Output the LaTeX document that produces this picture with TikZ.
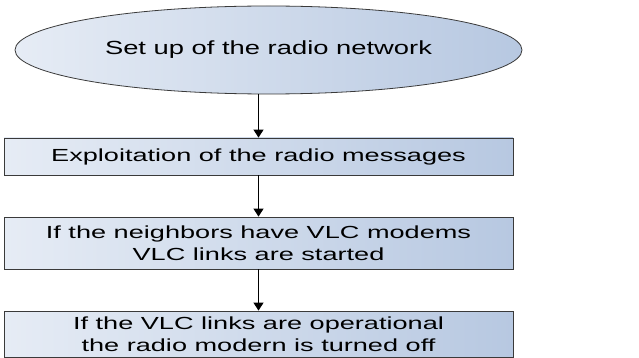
\documentclass[tikz,border=0pt]{standalone}
\usepackage{fontspec}
\setmainfont{Liberation Sans}
\newfontfamily\boxfont[FakeStretch=1.55]{Liberation Sans}
\newfontfamily\ovalfont[FakeStretch=1.44]{Liberation Sans}
\usetikzlibrary{shapes.geometric, arrows.meta}
\definecolor{fillleft}{HTML}{E6ECF5}
\definecolor{fillright}{HTML}{B7C8E1}
\definecolor{edgegray}{HTML}{3A3A3A}

\begin{document}
\begin{tikzpicture}[x = 1pt, y = -1pt, >={Triangle[width = 10pt, length = 8pt]},
    task/.style = {draw = edgegray, line width = 0.8pt, left color = fillleft,
      right color = fillright, minimum width = 509pt, inner sep = 0pt,
      align = center, font = \boxfont\fontsize{17.5}{22}\selectfont},
    start/.style = {ellipse, draw = edgegray, line width = 0.8pt, left color = fillleft,
      right color = fillright, minimum width = 507pt, minimum height = 88pt,
      inner sep = 0pt, font = \ovalfont\fontsize{19}{22}\selectfont}]
  \useasboundingbox (0,0) rectangle (639,358);
  \node[start] (setup) at (268.5,50) {Set up of the radio network};
  \node[task, minimum height = 37pt] (exploit) at (258.5,156.5) {Exploitation of the radio messages};
  \node[task, minimum height = 52pt] (neighbors) at (258.5,243) {If the neighbors have VLC modems\\VLC links are started};
  \node[task, minimum height = 46pt] (radiooff) at (258.5,334) {If the VLC links are operational\\the radio modern is turned off};
  \path[->, line width = 1.2pt]
    (setup.south -| exploit.north) edge (exploit.north)
    (exploit) edge (neighbors)
    (neighbors) edge (radiooff);
\end{tikzpicture}
\end{document}
